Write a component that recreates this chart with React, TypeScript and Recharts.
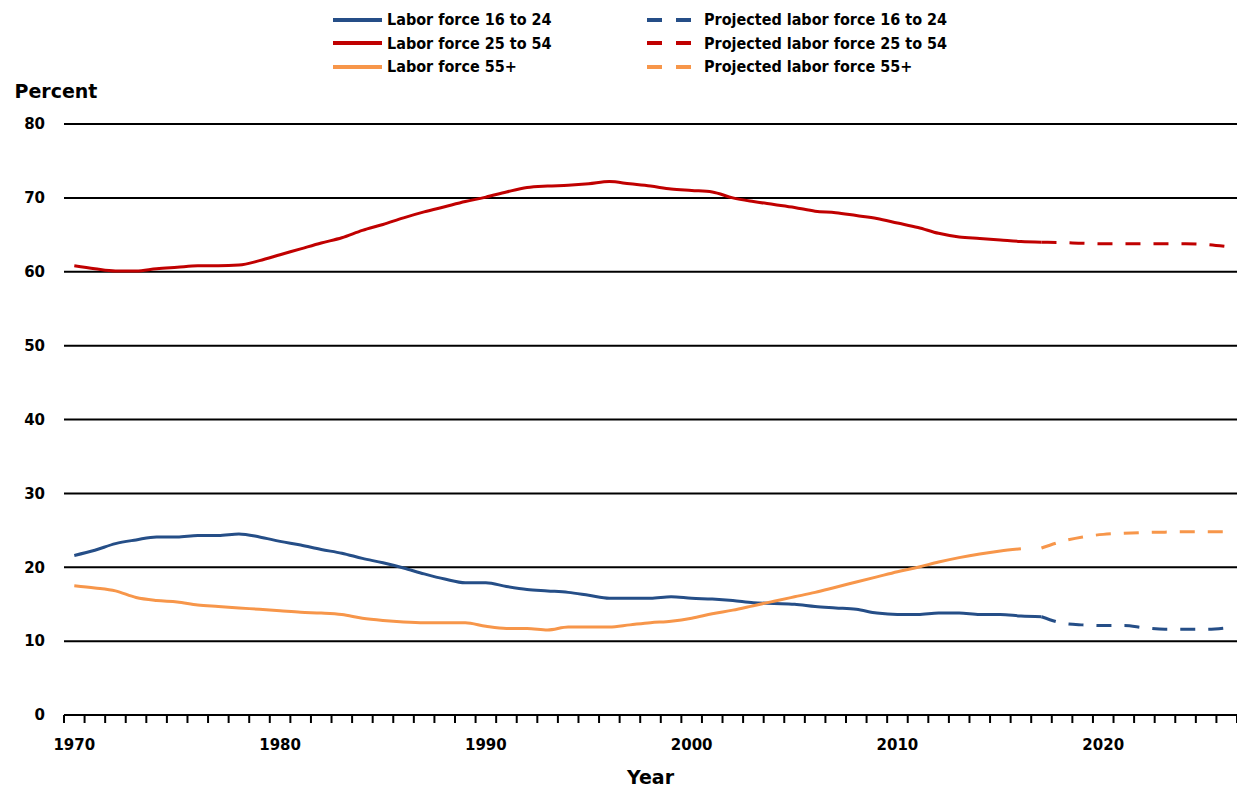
import React from 'react';
import { LineChart, Line, XAxis, YAxis, CartesianGrid, Legend, Label } from 'recharts';

const years = [
  1970, 1971, 1972, 1973, 1974, 1975, 1976, 1977, 1978, 1979,
  1980, 1981, 1982, 1983, 1984, 1985, 1986, 1987, 1988, 1989,
  1990, 1991, 1992, 1993, 1994, 1995, 1996, 1997, 1998, 1999,
  2000, 2001, 2002, 2003, 2004, 2005, 2006, 2007, 2008, 2009,
  2010, 2011, 2012, 2013, 2014, 2015, 2016, 2017, 2018, 2019,
  2020, 2021, 2022, 2023, 2024, 2025, 2026,
];

// Historical series start in 1970
const laborForce16to24 = [
  21.6, 22.3, 23.2, 23.7, 24.1, 24.1, 24.3, 24.3, 24.5, 24.1,
  23.5, 23.0, 22.4, 21.9, 21.2, 20.6, 19.9, 19.1, 18.4, 17.9,
  17.9, 17.4, 17.0, 16.8, 16.6, 16.2, 15.8, 15.8, 15.8, 16.0,
  15.8, 15.7, 15.5, 15.2, 15.1, 15.0, 14.7, 14.5, 14.3, 13.8,
  13.6, 13.6, 13.8, 13.8, 13.6, 13.6, 13.4, 13.3,
];
const laborForce25to54 = [
  60.8, 60.4, 60.1, 60.1, 60.4, 60.6, 60.8, 60.8, 60.9, 61.5,
  62.3, 63.1, 63.9, 64.6, 65.6, 66.4, 67.3, 68.1, 68.8, 69.5,
  70.1, 70.8, 71.4, 71.6, 71.7, 71.9, 72.2, 71.9, 71.6, 71.2,
  71.0, 70.8, 70.0, 69.5, 69.1, 68.7, 68.2, 68.0, 67.6, 67.2,
  66.6, 66.0, 65.2, 64.7, 64.5, 64.3, 64.1, 64.0,
];
const laborForce55plus = [
  17.5, 17.2, 16.8, 15.9, 15.5, 15.3, 14.9, 14.7, 14.5, 14.3,
  14.1, 13.9, 13.8, 13.6, 13.1, 12.8, 12.6, 12.5, 12.5, 12.5,
  12.0, 11.7, 11.7, 11.5, 11.9, 11.9, 11.9, 12.2, 12.5, 12.7,
  13.1, 13.7, 14.2, 14.8, 15.4, 16.0, 16.6, 17.3, 18.0, 18.7,
  19.4, 20.0, 20.7, 21.3, 21.8, 22.2, 22.5,
];

// Projections start in 2017
const projectionStartYear = 2017;
const projected16to24 = [13.3, 12.45, 12.2, 12.1, 12.1, 11.8, 11.6, 11.6, 11.6, 11.8];
const projected25to54 = [64.0, 63.95, 63.85, 63.8, 63.8, 63.8, 63.8, 63.8, 63.7, 63.4];
const projected55plus = [22.6, 23.5, 24.1, 24.45, 24.6, 24.7, 24.75, 24.8, 24.8, 24.8];

const yTicks = [0, 10, 20, 30, 40, 50, 60, 70, 80];
const xLabelTicks = [1970, 1980, 1990, 2000, 2010, 2020];

const BLUE = '#254E87';
const RED = '#C00000';
const ORANGE = '#F7964A';

const hist = (arr: number[], i: number) => (i < arr.length ? arr[i] : null);
const proj = (arr: number[], year: number) => {
  const j = year - projectionStartYear;
  return j >= 0 && j < arr.length ? arr[j] : null;
};

const data = years.map((year, i) => ({
  year,
  h16: hist(laborForce16to24, i),
  h25: hist(laborForce25to54, i),
  h55: hist(laborForce55plus, i),
  p16: proj(projected16to24, year),
  p25: proj(projected25to54, year),
  p55: proj(projected55plus, year),
}));

// tick marks sit between the yearly categories
const tickMarks = years.map((y) => y - 0.5).concat([years[years.length - 1] + 0.5]);
const xDomain = [tickMarks[0], tickMarks[tickMarks.length - 1]];

const FONT = '"DejaVu Sans", Verdana, sans-serif';
const LEGEND_FONT = '"DejaVu Sans Condensed", "DejaVu Sans", sans-serif';

const legendOrder = ['h16', 'h25', 'h55', 'p16', 'p25', 'p55'];

function LegendContent(props: any) {
  const payload: any[] = props.payload || [];
  const items = legendOrder
    .map((k) => payload.find((p) => p.dataKey === k))
    .filter(Boolean);
  return (
    <div
      style={{
        display: 'grid',
        gridTemplateColumns: '313px 330px',
        gridTemplateRows: 'repeat(3, 23.5px)',
        gridAutoFlow: 'column',
        fontFamily: LEGEND_FONT,
        fontWeight: 'bold',
        fontSize: 16,
        color: '#000',
      }}
    >
      {items.map((it: any) => {
        const dashed = String(it.dataKey).startsWith('p');
        return (
          <div key={it.dataKey} style={{ display: 'flex', alignItems: 'center', whiteSpace: 'nowrap' }}>
            <svg width={dashed ? 54 : 50} height={8} style={{ flex: 'none' }}>
              {dashed ? (
                <line x1={1} y1={4} x2={45} y2={4} stroke={it.color} strokeWidth={4} strokeDasharray="15 14" />
              ) : (
                <line x1={0} y1={4} x2={49} y2={4} stroke={it.color} strokeWidth={4} />
              )}
            </svg>
            <span style={{ marginLeft: 4 }}>{it.value}</span>
          </div>
        );
      })}
    </div>
  );
}

const EmptyTick = () => <g />;

export default function App() {
  return (
    <div style={{ position: 'absolute', left: 0, top: 0, background: '#fff' }}>
      <LineChart
        width={1237}
        height={787}
        data={data}
        margin={{ top: 124, right: 0, left: 0, bottom: 0 }}
        style={{ fontFamily: FONT }}
      >
        <CartesianGrid vertical={false} stroke="#000" strokeWidth={2} />
        <XAxis
          dataKey="year"
          type="number"
          domain={xDomain}
          ticks={tickMarks}
          interval={0}
          height={10}
          tick={<EmptyTick />}
          tickSize={8}
          axisLine={{ stroke: '#000', strokeWidth: 2 }}
          tickLine={{ stroke: '#000', strokeWidth: 2 }}
        />
        <XAxis
          xAxisId="labels"
          dataKey="year"
          type="number"
          domain={xDomain}
          ticks={xLabelTicks}
          interval={0}
          height={62}
          axisLine={false}
          tickLine={false}
          tickSize={0}
          tickMargin={14}
          tick={{ fill: '#000', fontSize: 15, fontWeight: 'bold', fontFamily: FONT }}
        >
          <Label
            content={(p: any) => {
              const vb = p.viewBox || {};
              return (
                <text
                  x={vb.x + vb.width / 2}
                  y={vb.y + vb.height - 3}
                  textAnchor="middle"
                  fill="#000"
                  fontSize={19}
                  fontWeight="bold"
                  fontFamily={FONT}
                >
                  Year
                </text>
              );
            }}
          />
        </XAxis>
        <YAxis
          domain={[0, 80]}
          ticks={yTicks}
          interval={0}
          width={64}
          axisLine={false}
          tickLine={false}
          tickSize={0}
          tickMargin={19}
          tick={{ fill: '#000', fontSize: 15, fontWeight: 'bold', fontFamily: FONT }}
        >
          <Label
            content={(p: any) => {
              const vb = p.viewBox || {};
              return (
                <text
                  x={vb.x + 56}
                  y={vb.y - 26}
                  textAnchor="middle"
                  fill="#000"
                  fontSize={19}
                  fontWeight="bold"
                  fontFamily={FONT}
                >
                  Percent
                </text>
              );
            }}
          />
        </YAxis>
        <Legend
          layout="horizontal"
          verticalAlign="middle"
          align="center"
          wrapperStyle={{ position: 'absolute', top: 8, left: 333, width: 660, height: 72 }}
          content={<LegendContent />}
        />
        <Line name="Labor force 16 to 24" dataKey="h16" type="monotone" stroke={BLUE} strokeWidth={3} dot={false} activeDot={false} isAnimationActive={false} />
        <Line name="Labor force 25 to 54" dataKey="h25" type="monotone" stroke={RED} strokeWidth={3} dot={false} activeDot={false} isAnimationActive={false} />
        <Line name="Labor force 55+" dataKey="h55" type="monotone" stroke={ORANGE} strokeWidth={3} dot={false} activeDot={false} isAnimationActive={false} />
        <Line name="Projected labor force 16 to 24" dataKey="p16" type="monotone" stroke={BLUE} strokeWidth={3} strokeDasharray="15 13" dot={false} activeDot={false} isAnimationActive={false} />
        <Line name="Projected labor force 25 to 54" dataKey="p25" type="monotone" stroke={RED} strokeWidth={3} strokeDasharray="15 13" dot={false} activeDot={false} isAnimationActive={false} />
        <Line name="Projected labor force 55+" dataKey="p55" type="monotone" stroke={ORANGE} strokeWidth={3} strokeDasharray="15 13" dot={false} activeDot={false} isAnimationActive={false} />
      </LineChart>
    </div>
  );
}
